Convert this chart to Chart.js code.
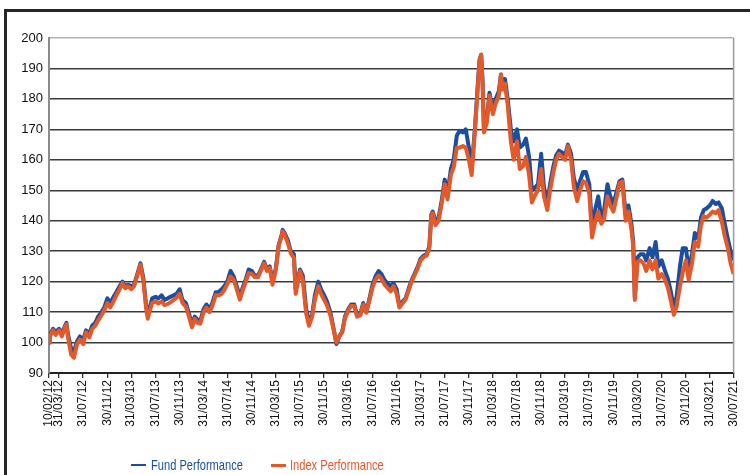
<!DOCTYPE html>
<html>
<head>
<meta charset="utf-8">
<script src="https://cdn.jsdelivr.net/npm/chart.js@4.4.0/dist/chart.umd.min.js"></script>
<style>
  html, body { margin: 0; padding: 0; background: #fff; overflow: hidden; }
  #wrap { position: relative; width: 750px; height: 475px; overflow: hidden; }
  canvas { display: block; }
  #frame { position: absolute; left: 4px; top: 9px; width: 800px; height: 500px; border: 3px solid #262626; pointer-events: none; }
  .legend-line { position: absolute; }
  .legend-text { position: absolute; font: 15px 'Liberation Sans', Arial, sans-serif; line-height: 15px; white-space: nowrap; transform: scaleX(0.74); transform-origin: 0 0; }
</style>
</head>
<body>
<div id="wrap">
  <canvas id="chart" width="750" height="475"></canvas>
  <div id="frame"></div>
  <div id="legend"></div>
</div>
<script>
// sample dates (roughly twice a month)
const dates = [
  '2012-02-10','2012-02-15','2012-03-01','2012-03-15','2012-04-01','2012-04-15','2012-05-01','2012-05-08','2012-05-15','2012-06-01','2012-06-15','2012-07-01','2012-07-15','2012-08-01','2012-08-15','2012-09-01','2012-09-15','2012-10-01','2012-10-15','2012-11-01','2012-11-15','2012-12-01','2012-12-15',
  '2013-01-01','2013-01-15','2013-02-01','2013-02-15','2013-03-01','2013-03-15','2013-04-01','2013-04-15','2013-05-01','2013-05-17','2013-06-01','2013-06-15','2013-06-23','2013-07-01','2013-07-15','2013-08-01','2013-08-15','2013-09-01','2013-09-15','2013-10-01','2013-10-15','2013-11-01','2013-11-15','2013-12-01','2013-12-15',
  '2014-01-01','2014-01-15','2014-02-01','2014-02-15','2014-03-01','2014-03-15','2014-04-01','2014-04-15','2014-05-01','2014-05-15','2014-06-01','2014-06-15','2014-07-01','2014-07-15','2014-08-01','2014-08-15','2014-09-01','2014-09-15','2014-10-01','2014-10-15','2014-11-01','2014-11-15','2014-12-01','2014-12-15',
  '2015-01-01','2015-01-15','2015-02-01','2015-02-15','2015-03-01','2015-03-15','2015-04-01','2015-04-15','2015-05-01','2015-05-05','2015-05-15','2015-06-01','2015-06-15','2015-07-01','2015-07-10','2015-08-01','2015-08-15','2015-09-01','2015-09-15','2015-10-01','2015-10-15','2015-11-01','2015-11-15','2015-12-01','2015-12-15',
  '2016-01-01','2016-01-15','2016-02-01','2016-02-15','2016-03-01','2016-03-15','2016-04-01','2016-04-15','2016-05-01','2016-05-15','2016-06-01','2016-06-15','2016-07-01','2016-07-15','2016-08-01','2016-08-15','2016-09-01','2016-09-15','2016-10-01','2016-10-15','2016-11-01','2016-11-15','2016-12-01','2016-12-15',
  '2017-01-01','2017-01-15','2017-02-01','2017-02-15','2017-03-01','2017-03-15','2017-04-01','2017-04-15','2017-05-01','2017-05-15','2017-05-25','2017-06-01','2017-06-15','2017-07-01','2017-07-15','2017-08-01','2017-08-15','2017-09-01','2017-09-15','2017-10-01','2017-10-15','2017-11-01','2017-11-15','2017-12-01','2017-12-15',
  '2018-01-01','2018-01-15','2018-01-24','2018-02-01','2018-02-08','2018-02-15','2018-03-01','2018-03-15','2018-04-01','2018-04-15','2018-05-01','2018-05-12','2018-05-20','2018-06-01','2018-06-15','2018-07-01','2018-07-15','2018-08-01','2018-08-15','2018-09-01','2018-09-15','2018-10-01','2018-10-15','2018-11-01','2018-11-15','2018-12-01','2018-12-15',
  '2019-01-01','2019-01-15','2019-02-01','2019-02-15','2019-03-01','2019-03-15','2019-04-01','2019-04-15','2019-05-01','2019-05-15','2019-06-01','2019-06-15','2019-07-01','2019-07-15','2019-08-01','2019-08-15','2019-09-01','2019-09-15','2019-10-01','2019-10-15','2019-11-01','2019-11-15','2019-12-01','2019-12-15',
  '2020-01-01','2020-01-15','2020-02-01','2020-02-15','2020-03-01','2020-03-10','2020-03-18','2020-04-01','2020-04-15','2020-05-01','2020-05-15','2020-06-01','2020-06-15','2020-07-01','2020-07-15','2020-08-01','2020-08-15','2020-09-01','2020-09-15','2020-10-01','2020-10-15','2020-11-01','2020-11-15','2020-12-01','2020-12-15',
  '2021-01-01','2021-01-15','2021-02-01','2021-02-15','2021-03-01','2021-03-15','2021-04-01','2021-04-15','2021-05-01','2021-05-15','2021-06-01','2021-06-15','2021-07-01','2021-07-15','2021-07-30'
];

const fundPerf = [
  100,102.5,104.5,103.5,104.5,103,105.5,106.5,103,98,97,100.5,102,101,104,103,105.5,106.5,108.5,110,111.5,114.5,113,
  115,116.5,118.5,120,118.5,119,118.5,119,122.5,126,121,112,109,111,114.5,115,114.5,115.5,114,114.5,115,115.5,116,117.5,114,
  113,110,106,108.5,107.5,107,111,112.5,111,113,116.5,116.5,117.5,118.5,120.5,123.5,121.5,118.5,115,118,121,124,123.5,122,
  122,124,126.5,124,125,120,124.5,132,135.5,137,136,133.5,130,129,117.5,124,122,111,107,109,115.5,120,117.5,115.5,113.5,
  110,105.5,99.5,102,103.5,108.5,111,112.5,112.5,109,109.5,113,110,114,119,121.5,123.5,122.5,120.5,119.5,118.5,119.5,117.5,112,
  113.5,114.5,118,120.5,122.5,124.5,127.5,128.5,129,131.5,142,143,140,141,146,153.5,149,157,160,168,169.5,169,170,164,157,
  171,185,193,194.5,186,170,173,182,176.5,180,182.5,188,184.5,186.5,180,170,166,170,164,165,167,161,150,151,152,162,151,
  146,152,158,161.5,163,162.5,161.5,165,162,154,150,153,156,156,152,138,144,148,141,143.5,152,148,145.5,149,
  153,153.5,142,145,139,133,115,128,129,129,127,131,128,133,125,127,124,121,117,111.5,115,125,131,131,124,
  129,136,134,141,143.5,144,145,146.5,145.5,146,144,139,134,130,127
];

const indexPerf = [
  100,102,104,102.5,104,102,105,106,102,96,95,99.5,101,99.5,103.4,101.7,104.5,105.5,107.2,109,110.5,113,111.5,
  113.5,115.5,117.5,119.5,117.8,118.5,117.5,118.5,122,125.5,120,111,107.8,110,113,113.5,112.8,113.5,112.3,112.6,113.2,114,114.7,116,113,
  111.8,109,105,107.8,106.5,106.2,110,111.5,110,112,115.5,115.5,116,117.3,119.5,121.7,120.5,117.5,114.1,117,120.2,122.8,122.5,121.5,
  121.5,123.5,126,123.5,124.5,119,123.9,131.8,135,136.5,135.5,132.5,129.3,127.8,116,123.5,120.5,109.5,105.5,108.5,114,118.5,116,114,112.2,
  109,105,100,102,103.5,108,110.5,112,112,108.5,109,112.5,109.8,113.5,118,120.5,122,121,119,118,116.8,118.5,116,111.5,
  113,114.1,117.4,120,122,124,127,128,128.5,131,141.4,142.5,138.5,140,145,152,147,155,157.5,164,164,164.5,164,160,155,
  170,184,192.7,194.5,185,169,172,181,175,178.5,181,188,183,185,178,166,160,166,157,158,161,155,146,148.5,150,157,148,
  143.5,150,156,160,162,161,160,164.5,160,151.2,146.5,150,153,152.5,149,134.5,140,143,139,140.5,148,145,143,147,
  152.3,152.9,140,143,137,131.5,114,126.5,127,126,123.5,127,124,127,121,122.5,121,118,114,109.1,111.8,118.5,123,127,120.6,
  126,133,131.5,138.5,141.5,141,142,143,142.5,143.5,139.5,135,131,126,122.5
];

// x axis tick positions and their labels
const tickDates = [
  '2012-02-10','2012-03-31','2012-07-31','2012-11-30','2013-03-31','2013-07-31','2013-11-30',
  '2014-03-31','2014-07-31','2014-11-30','2015-03-31','2015-07-31','2015-11-30','2016-03-31',
  '2016-07-31','2016-11-30','2017-03-31','2017-07-31','2017-11-30','2018-03-31','2018-07-31',
  '2018-11-30','2019-03-31','2019-07-31','2019-11-30','2020-03-31','2020-07-31','2020-11-30',
  '2021-03-31','2021-07-30'
];
const tickLabels = [
  '10/02/12','31/03/12','31/07/12','30/11/12','31/03/13','31/07/13','30/11/13',
  '31/03/14','31/07/14','30/11/14','31/03/15','31/07/15','30/11/15','31/03/16',
  '31/07/16','30/11/16','31/03/17','31/07/17','30/11/17','31/03/18','31/07/18',
  '30/11/18','31/03/19','31/07/19','30/11/19','31/03/20','31/07/20','30/11/20',
  '31/03/21','30/07/21'
];

const fundColor = '#1a4f9f';
const indexColor = '#e4592a';

const toPoints = (vals) => vals.map((v, i) => ({ x: Date.parse(dates[i]), y: v }));

// right edge of the plot box
const plotBorder = {
    id: 'plotBorder',
    afterDatasetsDraw(chart) {
        const { ctx, chartArea: a } = chart;
        ctx.save();
        ctx.strokeStyle = '#9a9a9a';
        ctx.lineWidth = 1.5;
        ctx.beginPath();
        ctx.moveTo(a.right, a.top);
        ctx.lineTo(a.right, a.bottom);
        ctx.stroke();
        ctx.restore();
    }
};

const chart = new Chart(document.getElementById('chart'), {
    type: 'line',
    data: {
        datasets: [{
            label: 'Fund Performance',
            data: toPoints(fundPerf),
            borderColor: fundColor,
            backgroundColor: fundColor,
            borderWidth: 4,
            borderJoinStyle: 'round',
            pointRadius: 0,
            tension: 0,
            order: 2
        }, {
            label: 'Index Performance',
            data: toPoints(indexPerf),
            borderColor: indexColor,
            backgroundColor: indexColor,
            borderWidth: 4,
            borderJoinStyle: 'round',
            pointRadius: 0,
            tension: 0,
            order: 1
        }]
    },
    options: {
        responsive: false,
        animation: false,
        devicePixelRatio: 1,
        layout: { padding: { top: 38, right: 8, left: 0, bottom: 0 } },
        plugins: { legend: { display: false }, tooltip: { enabled: false } },
        scales: {
            x: {
                type: 'linear',
                min: Date.parse(tickDates[0]),
                max: Date.parse(tickDates[tickDates.length - 1]),
                afterBuildTicks: (scale) => {
                    scale.ticks = tickDates.map(d => ({ value: Date.parse(d) }));
                },
                afterFit: (scale) => { scale.height = 102; },
                ticks: {
                    autoSkip: false,
                    maxRotation: 90,
                    minRotation: 90,
                    padding: 2,
                    color: '#111',
                    font: { family: "'Liberation Sans', Arial, sans-serif", size: 12 },
                    callback: (value, i) => tickLabels[i]
                },
                grid: { drawOnChartArea: false, drawTicks: true, tickLength: 5, color: '#333', lineWidth: 1.3 },
                border: { color: '#222', width: 2 }
            },
            y: {
                min: 90,
                max: 200,
                afterFit: (scale) => { scale.width = 49; },
                ticks: {
                    stepSize: 10,
                    padding: 6,
                    color: '#111',
                    font: { family: "'Liberation Sans', Arial, sans-serif", size: 13 }
                },
                grid: {
                    drawTicks: false,
                    lineWidth: 1.5,
                    color: (ctx) => ctx.tick && ctx.tick.value === 200 ? '#b3b3b3' : '#3a3a3a'
                },
                border: { color: '#8c8c8c', width: 2 }
            }
        }
    },
    plugins: [plotBorder]
});

// legend below the chart
const legendEl = document.getElementById('legend');
const legendItems = [
    { text: 'Fund Performance', color: fundColor, lineX: 131, lineH: 2, textX: 151 },
    { text: 'Index Performance', color: indexColor, lineX: 271, lineH: 3, textX: 290 }
];
legendItems.forEach(item => {
    const line = document.createElement('div');
    line.className = 'legend-line';
    line.style.left = item.lineX + 'px';
    line.style.top = (465 - item.lineH / 2) + 'px';
    line.style.width = '15px';
    line.style.height = item.lineH + 'px';
    line.style.background = item.color;
    legendEl.appendChild(line);

    const txt = document.createElement('div');
    txt.className = 'legend-text';
    txt.style.left = item.textX + 'px';
    txt.style.top = '457px';
    txt.style.color = item.color;
    txt.textContent = item.text;
    legendEl.appendChild(txt);
});
</script>
</body>
</html>
